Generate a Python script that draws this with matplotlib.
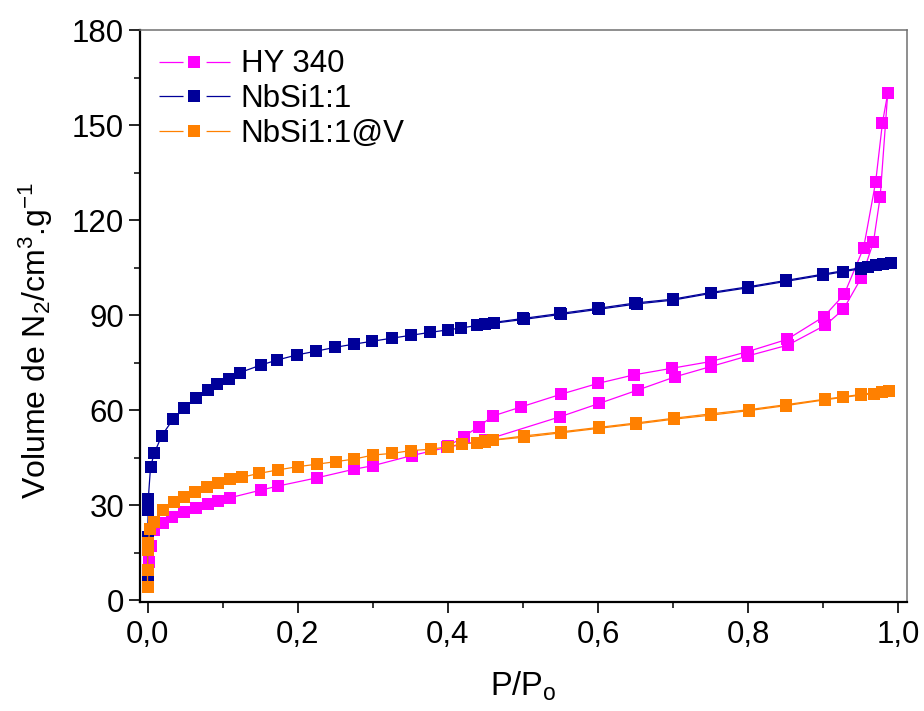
import matplotlib
matplotlib.use("Agg")
import matplotlib.pyplot as plt
from matplotlib.lines import Line2D
from matplotlib.ticker import MultipleLocator, FixedLocator, FixedFormatter

plt.rcParams['font.family'] = ['Liberation Sans', 'DejaVu Sans']
plt.rcParams['mathtext.fontset'] = 'custom'
plt.rcParams['mathtext.rm'] = 'Liberation Sans'
plt.rcParams['mathtext.it'] = 'Liberation Sans'
plt.rcParams['mathtext.default'] = 'regular'
plt.rcParams['lines.scale_dashes'] = False

# ---------------- data ----------------
series_names = ["HY 340", "NbSi1:1", "NbSi1:1@V"]

hy_ads_x = [0.0005, 0.002, 0.005, 0.009, 0.02, 0.032, 0.048, 0.064, 0.08, 0.094, 0.11,
            0.151, 0.174, 0.226, 0.275, 0.3, 0.352, 0.399, 0.45, 0.55, 0.602, 0.653,
            0.703, 0.75, 0.8, 0.853, 0.903, 0.927, 0.951, 0.967, 0.976, 0.986]
hy_ads_y = [5, 12, 17, 22.1, 24.4, 26.1, 27.7, 29, 30.2, 31.2, 32.3,
            34.7, 36, 38.6, 41.3, 42.4, 45.6, 48.2, 50.5, 57.9, 62.1, 66.3,
            70.5, 73.7, 77.1, 80.5, 86.8, 91.8, 101.8, 113, 127.4, 160]
hy_des_x = [0.986, 0.979, 0.970, 0.954, 0.928, 0.901, 0.852, 0.799, 0.75, 0.699, 0.648,
            0.6, 0.551, 0.498, 0.46, 0.441, 0.421, 0.40]
hy_des_y = [160, 150.7, 132.1, 111.3, 96.5, 89.5, 82.3, 78.4, 75.3, 73.2, 71.1,
            68.4, 65, 61, 58.1, 54.7, 51.6, 48.5]

nb_ads_x = [0.0, 0.0, 0.001, 0.001, 0.004, 0.009, 0.019, 0.034, 0.049, 0.064, 0.081,
            0.093, 0.109, 0.123, 0.151, 0.173, 0.199, 0.225, 0.25, 0.275, 0.299, 0.326,
            0.351, 0.376, 0.4, 0.418, 0.439, 0.45, 0.461, 0.501, 0.551, 0.601, 0.652,
            0.700, 0.75, 0.8, 0.85, 0.9, 0.927, 0.95, 0.96, 0.97, 0.98, 0.99]
nb_ads_y = [6.3, 20, 28.4, 31.9, 42, 46.4, 51.9, 57.1, 60.5, 63.7, 66.3,
            68.2, 69.8, 71.8, 74.2, 75.8, 77.4, 78.6, 79.8, 80.8, 81.7, 82.7,
            83.6, 84.5, 85.3, 85.9, 86.7, 87.1, 87.4, 88.6, 90.2, 91.8, 93.5,
            94.7, 96.8, 98.6, 100.6, 102.6, 103.7, 104.6, 105.2, 105.7, 106.1, 106.5]
nb_des_x = [0.99, 0.95, 0.9, 0.85, 0.8, 0.75, 0.7, 0.65, 0.6, 0.55, 0.5, 0.45]
nb_des_y = [106.5, 104.9, 102.9, 100.9, 98.9, 97.1, 95.0, 93.8, 92.1, 90.5, 88.9, 87.3]

nbv_ads_x = [0.0, 0.0, 0.0005, 0.001, 0.003, 0.009, 0.02, 0.035, 0.049, 0.063, 0.079,
             0.094, 0.11, 0.126, 0.149, 0.174, 0.2, 0.226, 0.251, 0.275, 0.301, 0.326,
             0.351, 0.377, 0.4, 0.419, 0.439, 0.45, 0.46, 0.501, 0.551, 0.601, 0.651,
             0.701, 0.751, 0.801, 0.851, 0.902, 0.927, 0.95, 0.968, 0.978, 0.988]
nbv_ads_y = [4.2, 9.5, 15.8, 18, 22.3, 24.7, 28.4, 31, 32.6, 34.2, 35.8,
             37, 38.1, 38.8, 40, 41.1, 42.1, 42.9, 43.7, 44.5, 45.8, 46.3,
             47.2, 47.6, 48.4, 49.3, 49.7, 50, 50.5, 51.4, 52.8, 54.2, 55.6,
             57.1, 58.4, 59.8, 61.4, 63.2, 64, 64.7, 65.2, 65.6, 66.1]
nbv_des_x = [0.988, 0.95, 0.902, 0.851, 0.801, 0.751, 0.701, 0.651, 0.601, 0.551, 0.501, 0.45]
nbv_des_y = [66.1, 64.9, 63.4, 61.7, 60.1, 58.8, 57.4, 55.9, 54.5, 53.1, 51.8, 50.2]

x_ticks = [0.0, 0.2, 0.4, 0.6, 0.8, 1.0]
x_tick_labels = ["0,0", "0,2", "0,4", "0,6", "0,8", "1,0"]
y_ticks = [0, 30, 60, 90, 120, 150, 180]

# ---------------- styles ----------------
c_hy = '#FF00FF'
c_nb = '#000099'
c_nbv = '#FF8000'
ms = 9
lw = 0.9

fig = plt.figure(figsize=(9.24, 7.11), dpi=100)
ax = fig.add_axes([139.5 / 924, 1 - 602 / 711, (907 - 139.5) / 924, (602 - 30) / 711])

kw = dict(marker='s', markersize=ms, linewidth=lw, markeredgewidth=0)
ax.plot(hy_ads_x, hy_ads_y, color=c_hy, zorder=3, **kw)
ax.plot(hy_des_x, hy_des_y, color=c_hy, zorder=3, **kw)
ax.plot(nb_ads_x, nb_ads_y, color=c_nb, zorder=4, **kw)
ax.plot(nb_des_x, nb_des_y, color=c_nb, zorder=4, **kw)
ax.plot(nbv_ads_x, nbv_ads_y, color=c_nbv, zorder=5, **kw)
ax.plot(nbv_des_x, nbv_des_y, color=c_nbv, zorder=5, **kw)

ax.set_xlim(-0.0107, 1.0117)
ax.set_ylim(-0.63, 180)

ax.xaxis.set_major_locator(FixedLocator(x_ticks))
ax.xaxis.set_major_formatter(FixedFormatter(x_tick_labels))
ax.xaxis.set_minor_locator(MultipleLocator(0.1))
ax.yaxis.set_major_locator(FixedLocator(y_ticks))
ax.yaxis.set_minor_locator(MultipleLocator(15))

ax.tick_params(which='major', direction='out', length=8, width=1.2, labelsize=22.5,
               pad=3, top=False, right=False)
ax.tick_params(which='minor', direction='out', length=4.5, width=1.1, top=False, right=False)
ax.tick_params(axis='x', which='major', pad=5)

for s in ['left', 'bottom']:
    ax.spines[s].set_linewidth(1.6)
    ax.spines[s].set_color('black')
for s in ['top', 'right']:
    ax.spines[s].set_linewidth(1.1)
    ax.spines[s].set_color('#707070')

ax.set_xlabel(r'P/P$_o$', fontsize=23.5, va='top')
ax.xaxis.set_label_coords(0.5, -0.118)
ax.set_ylabel(r'Volume de N$_2$/cm$^3$.g$^{-1}$', fontsize=23, va='center')
ax.yaxis.set_label_coords(-0.135, 0.458)

# legend proxies: Origin-style line with a gap around the marker
dash = [17.3, 16.6, 17.3, 60]
handles = [Line2D([], [], color=c, marker='s', markersize=ms, markeredgewidth=0,
                  linewidth=lw, dashes=dash)
           for c in (c_hy, c_nb, c_nbv)]
ax.legend(handles, series_names, loc='upper left', bbox_to_anchor=(0.0254, 0.966),
          frameon=False, fontsize=22.5, handlelength=2.27, handletextpad=0.35,
          labelspacing=0.15, borderaxespad=0.0, borderpad=0.0)

fig.savefig('out.png', dpi=100)
